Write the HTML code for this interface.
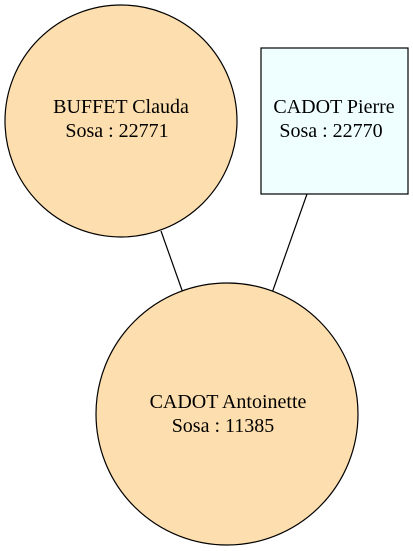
<!DOCTYPE html>
<html><head><style>html,body{margin:0;padding:0;background:#fff}
text{font-family:"Liberation Serif","Times New Roman",serif;font-size:20px}</style></head><body>
<svg width="413" height="551" xmlns="http://www.w3.org/2000/svg" style="display:block">
<g stroke="#000" stroke-width="1.2" fill="none">
<line x1="161" y1="231" x2="183" y2="293"/>
<line x1="307" y1="194" x2="272" y2="293"/>
</g>
<circle cx="121" cy="121" r="116" fill="#fddeae" stroke="#000" stroke-width="1.2"/>
<rect x="261" y="48" width="147" height="146" fill="#efffff" stroke="#000" stroke-width="1.2"/>
<circle cx="227" cy="414" r="131" fill="#fddeae" stroke="#000" stroke-width="1.2"/>
<g text-anchor="middle" fill="#000">
<text x="121" y="113">BUFFET Clauda</text>
<text x="117" y="137">Sosa : 22771</text>
<text x="334" y="113">CADOT Pierre</text>
<text x="331" y="137">Sosa : 22770</text>
<text x="228" y="408">CADOT Antoinette</text>
<text x="223" y="432">Sosa : 11385</text>
</g>
</svg>
</body></html>
